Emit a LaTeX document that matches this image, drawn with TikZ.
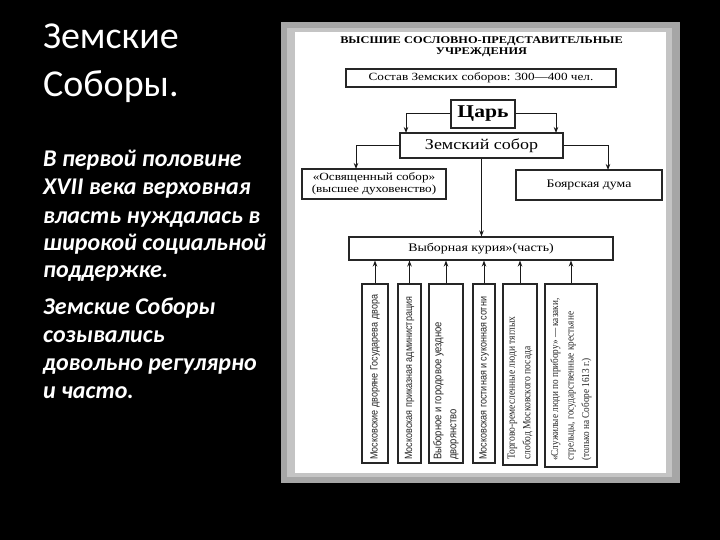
\documentclass[tikz,border=0pt]{standalone}
\usepackage{fontspec}
\setmainfont{Carlito}
\newfontfamily\dserif{Liberation Serif}[FakeStretch=1.2]
\newfontfamily\dsans{Liberation Sans}[FakeStretch=0.86]
\newfontfamily\dnarrowA{Liberation Serif}[FakeStretch=0.87]
\newfontfamily\dnarrowB{Liberation Serif}[FakeStretch=0.86]
\usetikzlibrary{arrows.meta}
\definecolor{panelgray}{HTML}{A6A6A6}
\definecolor{panelgrayl}{HTML}{C4C4C4}
\tikzset{
  box/.style={draw=black!85, line width=1.1pt, fill=white, inner sep=0pt, align=center},
  arr/.style={-{Stealth[length=6pt,width=4.5pt]}, line width=1pt, draw=black!90},
  rottxt/.style={rotate=90, anchor=west, inner sep=0pt, align=left, text=black!85},
  lefttxt/.style={anchor=base west, inner sep=0pt, text=white},
}
\begin{document}
\begin{tikzpicture}[x=1pt,y=-1pt]
\useasboundingbox (0,0) rectangle (720,540);
\fill[black] (0,0) rectangle (720,540);
% panel
\fill[panelgray] (281,22) rectangle (680,483);
\fill[panelgrayl] (287,28) rectangle (672,477);
\fill[white] (295,32) rectangle (666,473);

% left text
\node[lefttxt, font=\fontsize{38}{46}\selectfont] (h1) at (43,49) {Земские};
\node[lefttxt, font=\fontsize{38}{46}\selectfont] (h2) at (43,97) {Соборы.};
\begin{scope}[every node/.append style={lefttxt, font=\bfseries\itshape\fontsize{24}{27}\selectfont}]
\node (l1) at (43,167) {В первой половине};
\node (l2) at (43,195) {XVII века верховная};
\node (l3) at (43,223) {власть нуждалась в};
\node (l4) at (43,250) {широкой социальной};
\node (l5) at (43,277) {поддержке.};
\node (l6) at (43,314) {Земские Соборы};
\node (l7) at (43,342) {созывались};
\node (l8) at (43,370) {довольно регулярно};
\node (l9) at (43,398) {и часто.};
\end{scope}

% diagram
\node[inner sep=0pt, align=center, font=\dserif\bfseries\fontsize{10.3}{11}\selectfont] (title) at (481.5,46.5)
  {ВЫСШИЕ СОСЛОВНО-ПРЕДСТАВИТЕЛЬНЫЕ\\УЧРЕЖДЕНИЯ};
\node[box, minimum width=270, minimum height=18, font=\dserif\fontsize{11}{11}\selectfont] (sostav) at (481,78)
  {Состав Земских соборов: 300—400 чел.};
\node[box, minimum width=64, minimum height=28, font=\dserif\bfseries\fontsize{18}{18}\selectfont] (tsar) at (483,114) {Царь};
\node[box, minimum width=163, minimum height=25, font=\dserif\fontsize{15}{15}\selectfont] (zs) at (481.5,145.5) {Земский собор};
\node[box, minimum width=144, minimum height=30, font=\dserif\fontsize{11}{11.5}\selectfont] (osv) at (374,184)
  {«Освященный собор»\\(высшее духовенство)};
\node[box, minimum width=146, minimum height=30, font=\dserif\fontsize{11.5}{11.5}\selectfont] (boy) at (589,185) {Боярская дума};
\node[box, minimum width=264, minimum height=23, font=\dserif\fontsize{11.6}{12}\selectfont] (vyb) at (481,248.5) {Выборная курия»(часть)};

\coordinate (zsL) at (406,133);
\coordinate (zsR) at (556,133);
\coordinate (osvT) at (356,169);
\coordinate (boyT) at (608,170);
\draw[arr] (tsar.west) -| (zsL);
\draw[arr] (tsar.east) -| (zsR);
\draw[arr] (zs.west) -| (osvT);
\draw[arr] (zs.east) -| (boyT);
\draw[arr] (zs.south) -- (zs.south |- vyb.north);

% bottom boxes
\node[box, minimum width=26, minimum height=179] (b1) at (375,373.5) {};
\node[box, minimum width=23, minimum height=179] (b2) at (409.5,373.5) {};
\node[box, minimum width=34, minimum height=179] (b3) at (446,373.5) {};
\node[box, minimum width=22, minimum height=179] (b4) at (484,373.5) {};
\node[box, minimum width=34, minimum height=181] (b5) at (520,374.5) {};
\node[box, minimum width=52, minimum height=183] (b6) at (571,375.5) {};
\foreach \b in {b1,b2,b3,b4,b5,b6}{
  \draw[arr] (\b.north) -- (\b.north |- vyb.south);
}
\begin{scope}[every node/.append style={rottxt, font=\dsans\fontsize{10.5}{15}\selectfont}]
\node (t1) at (375,460) {Московские дворяне Государева двора};
\node (t2) at (409.5,460) {Московская приказная администрация};
\node[font=\dsans\fontsize{11}{15}\selectfont] (t3) at (446,460) {Выборное и городовое уездное\\дворянство};
\node (t4) at (484,460) {Московская гостиная и суконная сотни};
\end{scope}
\node[rottxt, font=\dnarrowA\fontsize{11}{15.5}\selectfont] (t5) at (520,460) {Торгово-ремесленные люди тяглых\\слобод Московского посада};
\node[rottxt, font=\dnarrowB\fontsize{10.7}{15.5}\selectfont] (t6) at (571,461) {«Служилые люди по прибору» — казаки,\\стрельцы, государственные крестьяне\\(только на Соборе 1613 г.)};
\end{tikzpicture}
\end{document}
